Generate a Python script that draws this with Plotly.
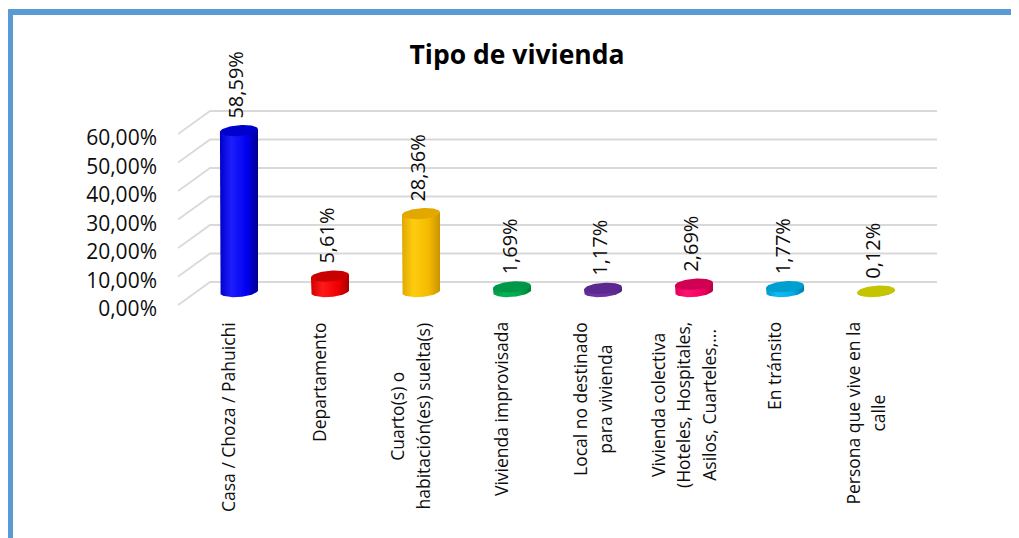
import numpy as np
import plotly.graph_objects as go

# ---------------- data ----------------
categories = [
    "Casa / Choza / Pahuichi",
    "Departamento",
    "Cuarto(s) o<br>habitación(es) suelta(s)",
    "Vivienda improvisada",
    "Local no destinado<br>para vivienda",
    "Vivienda colectiva<br>(Hoteles, Hospitales,<br>Asilos, Cuarteles,...",
    "En tránsito",
    "Persona que vive en la<br>calle",
]
values = [58.59, 5.61, 28.36, 1.69, 1.17, 2.69, 1.77, 0.12]
value_labels = ["58,59%", "5,61%", "28,36%", "1,69%", "1,17%", "2,69%", "1,77%", "0,12%"]
tick_values = [0, 10, 20, 30, 40, 50, 60]
tick_labels = ["0,00%", "10,00%", "20,00%", "30,00%", "40,00%", "50,00%", "60,00%"]
title_text = "Tipo de vivienda"

# colours: (left edge, highlight, body, right edge, cap)
bar_colors = [
    ("#0000C8", "#1E1EFF", "#0000F0", "#000090", "#0000CC"),
    ("#D00000", "#FF1A1A", "#F00000", "#A80000", "#C80000"),
    ("#E0A800", "#FFCC10", "#F5BA00", "#C89400", "#E2A800"),
    ("#009A45", "#00B455", "#00A84C", "#007E38", "#009848"),
    ("#60289A", "#7432AA", "#6A2E9E", "#4E2080", "#5C2890"),
    ("#E0005A", "#FF1070", "#F20062", "#B80048", "#D00052"),
    ("#0098CC", "#10BCF4", "#00AEE6", "#007EAA", "#009FD0"),
    ("#BDBD00", "#D4D400", "#C8C800", "#A8A800", "#C4C400"),
]

# ---------------- layout geometry ----------------
OFF = 8                                      # page body margin of the html
W, H = 1019 - OFF, 538 - OFF
PLOT_L, PLOT_R, PLOT_T, PLOT_B = 178, 937, 100, 310   # screen pixels
ML, MR = PLOT_L - OFF, W - (PLOT_R - OFF)
MT, MB = PLOT_T - OFF, H - (PLOT_B - OFF)
X_RANGE = [-0.67, 7.67]
WALL_RANGE = [-9.825, 63.86]                 # back wall gridlines
BAR_RANGE = [-6.737, 69.74]                  # cylinders
FRONT_SHIFT = 8.07                           # front edge lies lower than back wall
LABEL_SHIFT = 1.4                            # tick text sits a little below the edge
FRONT_RANGE = [WALL_RANGE[0] + FRONT_SHIFT + LABEL_SHIFT,
               WALL_RANGE[1] + FRONT_SHIFT + LABEL_SHIFT]
WALL_X0 = -0.318                             # where the back wall starts
HALF_W = 0.209                               # cylinder half width (x units)
CAP_B = 2.0                                  # cylinder ellipse half height (bar units)
TILT = 0.5                                   # ellipse tilt (bar units)

FONT = "Open Sans"
TXT = "#0d0d0d"

def px_to_paper_x(px):
    return (px - PLOT_L) / (PLOT_R - PLOT_L)

def px_to_paper_y(py):
    return (PLOT_B - py) / (PLOT_B - PLOT_T)

fig = go.Figure()

# back wall gridlines + perspective side lines
for v in tick_values:
    fig.add_trace(go.Scatter(
        x=[X_RANGE[0], WALL_X0, X_RANGE[1]],
        y=[v - FRONT_SHIFT, v, v],
        mode="lines", line=dict(color="#D9D9D9", width=1.8),
        xaxis="x", yaxis="y", hoverinfo="skip", showlegend=False))

# cylinders
t_low = np.linspace(np.pi, 2 * np.pi, 50)
t_full = np.linspace(0, 2 * np.pi, 80)
for i, (v, cols) in enumerate(zip(values, bar_colors)):
    le, hi, body, re, cap = cols
    bx = np.concatenate([[i - HALF_W], i + HALF_W * np.cos(t_low), [i + HALF_W]])
    by = np.concatenate([[v - TILT], CAP_B * np.sin(t_low) + TILT * np.cos(t_low), [v + TILT]])
    fig.add_trace(go.Scatter(
        x=bx, y=by, mode="lines", line=dict(width=0),
        fill="toself",
        fillgradient=dict(type="horizontal",
                          colorscale=[[0, le], [0.3, hi], [0.7, body], [1, re]]),
        xaxis="x", yaxis="y2", hoverinfo="skip", showlegend=False))
    fig.add_trace(go.Scatter(
        x=i + HALF_W * np.cos(t_full),
        y=v + CAP_B * np.sin(t_full) + TILT * np.cos(t_full),
        mode="lines", line=dict(width=0), fill="toself", fillcolor=cap,
        xaxis="x", yaxis="y2", hoverinfo="skip", showlegend=False))

# data labels
for i, (v, lab) in enumerate(zip(values, value_labels)):
    fig.add_annotation(
        x=i, y=v + CAP_B, xref="x", yref="y2", text=lab, textangle=-90,
        showarrow=False, xanchor="center", yanchor="bottom", yshift=5, xshift=-3,
        font=dict(family=FONT, size=20, color=TXT))

# category labels (line pitch from the base size, glyphs from the span size)
for i, cat in enumerate(categories):
    txt = "<br>".join(f"<span style='font-size:17.5px'>{ln}</span>"
                      for ln in cat.split("<br>"))
    fig.add_annotation(
        x=i, y=px_to_paper_y(320), xref="x", yref="paper", text=txt, textangle=-90,
        showarrow=False, xanchor="center", yanchor="top", xshift=-11, align="center",
        font=dict(family=FONT, size=19.5, color=TXT))

# frame border
fig.add_shape(type="line", xref="paper", yref="paper",
              x0=px_to_paper_x(7), x1=px_to_paper_x(1040),
              y0=px_to_paper_y(12), y1=px_to_paper_y(12),
              line=dict(color="#5B9BD5", width=6))
fig.add_shape(type="line", xref="paper", yref="paper",
              x0=px_to_paper_x(10), x1=px_to_paper_x(10),
              y0=px_to_paper_y(9), y1=px_to_paper_y(580),
              line=dict(color="#5B9BD5", width=6))

fig.update_layout(
    width=W, height=H,
    margin=dict(l=ML, r=MR, t=MT, b=MB),
    paper_bgcolor="white", plot_bgcolor="white",
    title=dict(text=f"<b>{title_text}</b>", xref="container", yref="container",
               x=(517 - OFF) / W, y=1 - (55 - OFF) / H, xanchor="center", yanchor="middle",
               font=dict(family=FONT, size=26.5, color="#000000")),
    xaxis=dict(range=X_RANGE, visible=False, fixedrange=True),
    yaxis=dict(range=WALL_RANGE, visible=False, fixedrange=True),
    yaxis2=dict(range=BAR_RANGE, overlaying="y", visible=False, fixedrange=True),
    yaxis3=dict(range=FRONT_RANGE, overlaying="y", side="left", anchor="x",
                tickvals=tick_values, ticktext=tick_labels, showgrid=False,
                zeroline=False, showline=False, ticks="", ticklabelstandoff=20,
                tickfont=dict(family=FONT, size=21, color=TXT), fixedrange=True),
    showlegend=False,
)
# invisible trace so yaxis3 is drawn
fig.add_trace(go.Scatter(x=[0], y=[0], xaxis="x", yaxis="y3", mode="markers",
                         marker=dict(opacity=0), hoverinfo="skip", showlegend=False))

fig.write_html("out.html")
